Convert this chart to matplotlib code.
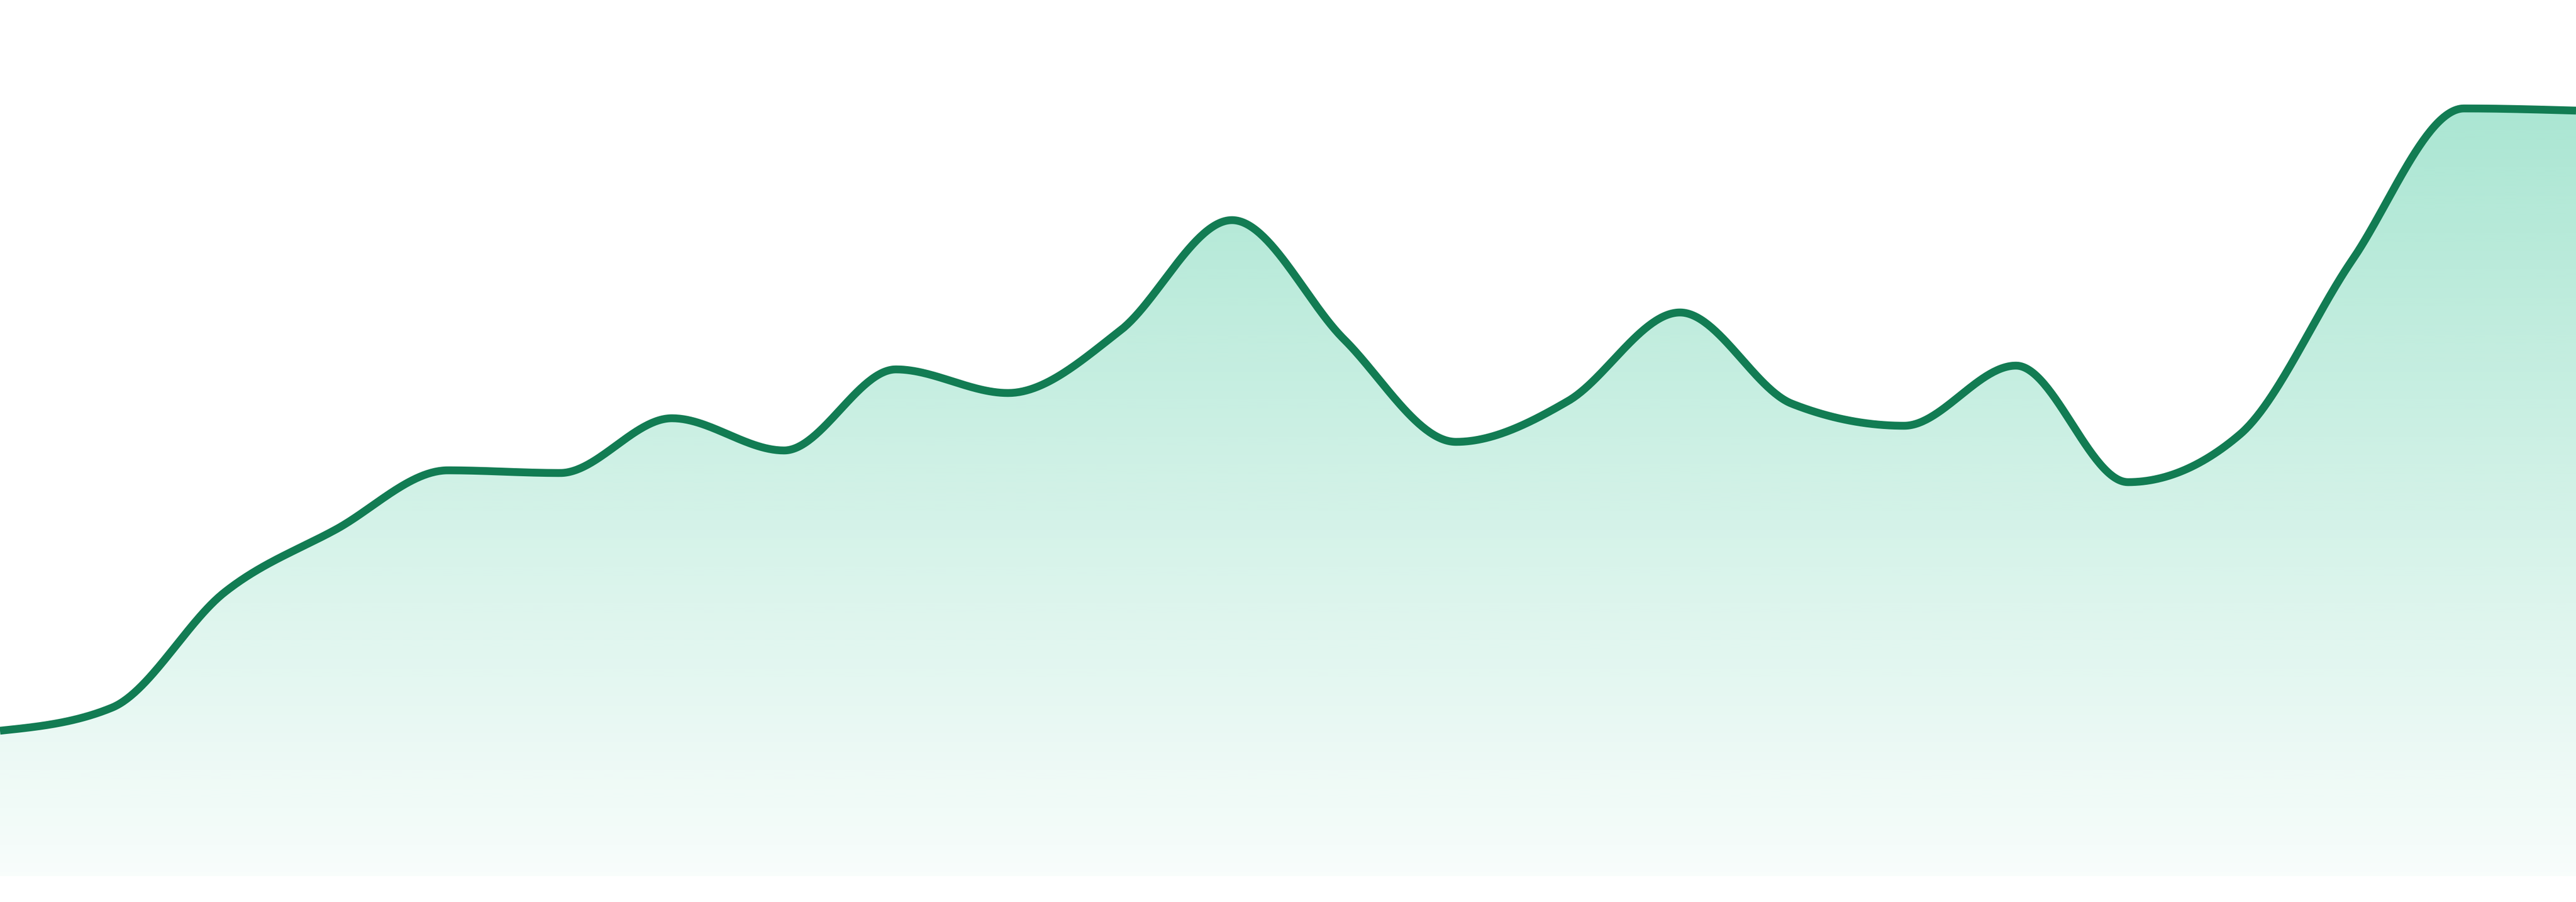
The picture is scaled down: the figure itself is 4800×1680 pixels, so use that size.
import numpy as np
import matplotlib
matplotlib.use("Agg")
import matplotlib.pyplot as plt
from matplotlib.patches import PathPatch
from matplotlib.path import Path

# data (heights above baseline)
x_idx = list(range(24))
values = [271, 314, 528, 646, 756, 751, 853, 793, 944, 900, 1016, 1222,
          1000, 809, 885, 1050, 880, 839, 951, 734, 823, 1147, 1430, 1426]

line_color = "#127c53"
fill_rgb = (16 / 255, 185 / 255, 129 / 255)


def monotone_x(xs, ys, n=60):
    xs = np.asarray(xs, float)
    ys = np.asarray(ys, float)
    m = len(xs)
    h = np.diff(xs)
    s = np.diff(ys) / h
    t = np.zeros(m)
    for i in range(1, m - 1):
        s0, s1 = s[i - 1], s[i]
        p = (s0 * h[i] + s1 * h[i - 1]) / (h[i - 1] + h[i])
        t[i] = (np.sign(s0) + np.sign(s1)) * min(abs(s0), abs(s1), 0.5 * abs(p))
    t[0] = (3 * s[0] - t[1]) / 2
    t[-1] = (3 * s[-1] - t[-2]) / 2
    px, py = [], []
    for i in range(m - 1):
        x0, x1 = xs[i], xs[i + 1]
        y0, y1 = ys[i], ys[i + 1]
        dx = (x1 - x0) / 3
        c = np.array([[x0, y0], [x0 + dx, y0 + dx * t[i]],
                      [x1 - dx, y1 - dx * t[i + 1]], [x1, y1]])
        u = np.linspace(0, 1, n, endpoint=(i == m - 2))[:, None]
        b = ((1 - u) ** 3) * c[0] + 3 * ((1 - u) ** 2) * u * c[1] + \
            3 * (1 - u) * u ** 2 * c[2] + u ** 3 * c[3]
        px.append(b[:, 0])
        py.append(b[:, 1])
    return np.concatenate(px), np.concatenate(py)


fig = plt.figure(figsize=(48, 16.8), dpi=100)
ax = fig.add_axes([0, 0, 1, 1])
ax.set_xlim(0, 23)
ax.set_ylim(-48, 1632)
ax.axis("off")

cx, cy = monotone_x(x_idx, values)

# gradient fill clipped to area
verts = np.column_stack([np.concatenate([cx, [cx[-1], cx[0]]]),
                         np.concatenate([cy, [0, 0]])])
poly = PathPatch(Path(verts), facecolor="none", edgecolor="none")
ax.add_patch(poly)
grad = np.linspace(0.40, 0.03, 512)[:, None]
img = np.zeros((512, 1, 4))
img[..., 0] = fill_rgb[0]
img[..., 1] = fill_rgb[1]
img[..., 2] = fill_rgb[2]
img[..., 3] = grad
im = ax.imshow(img, extent=[0, 23, 0, 1632], origin="upper",
               aspect="auto", interpolation="bilinear", zorder=1)
im.set_clip_path(poly)

ax.plot(cx, cy, color=line_color, lw=10.5, solid_capstyle="butt",
        solid_joinstyle="round", zorder=3)

fig.savefig("out.png", dpi=100, facecolor="white")
